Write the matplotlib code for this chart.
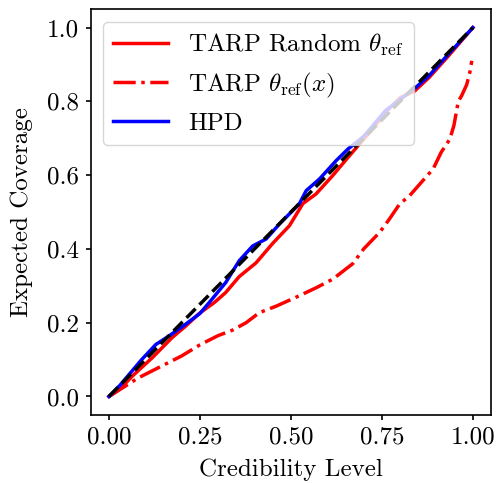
import matplotlib
matplotlib.use("Agg")
import matplotlib.pyplot as plt

plt.rcParams['font.family'] = 'serif'
plt.rcParams['font.serif'] = ['cmr10']
plt.rcParams['mathtext.fontset'] = 'cm'
plt.rcParams['axes.formatter.use_mathtext'] = True
plt.rcParams['axes.unicode_minus'] = False

# TARP with random reference points
tarp_x = [0.0, 0.03, 0.064, 0.119, 0.174, 0.21, 0.248, 0.29, 0.321, 0.358, 0.404, 0.45,
          0.496, 0.533, 0.569, 0.615, 0.65, 0.689, 0.72, 0.76, 0.80, 0.84, 0.88, 0.93, 1.0]
tarp_y = [0.0, 0.02, 0.055, 0.105, 0.16, 0.19, 0.225, 0.255, 0.282, 0.325, 0.362, 0.415,
          0.463, 0.523, 0.549, 0.599, 0.64, 0.685, 0.72, 0.77, 0.81, 0.828, 0.865, 0.92, 1.0]

# TARP with reference points theta_ref(x)
tarpx_x = [0.0, 0.04, 0.08, 0.12, 0.2, 0.25, 0.3, 0.34, 0.377, 0.413, 0.46, 0.523, 0.57,
           0.615, 0.67, 0.70, 0.744, 0.77, 0.799, 0.826, 0.858, 0.891, 0.913, 0.937,
           0.948, 0.96, 0.969, 0.983, 0.992, 0.997]
tarpx_y = [0.0, 0.025, 0.05, 0.07, 0.11, 0.14, 0.165, 0.18, 0.20, 0.227, 0.245, 0.273, 0.295,
           0.318, 0.36, 0.40, 0.445, 0.48, 0.522, 0.544, 0.58, 0.617, 0.662, 0.698,
           0.735, 0.80, 0.815, 0.845, 0.88, 0.91]

# HPD coverage
hpd_x = [0.0, 0.03, 0.06, 0.09, 0.129, 0.165, 0.211, 0.25, 0.275, 0.321, 0.358, 0.395, 0.432,
         0.468, 0.523, 0.542, 0.579, 0.624, 0.657, 0.70, 0.76, 0.82, 0.84, 0.88, 0.93, 1.0]
hpd_y = [0.0, 0.03, 0.065, 0.10, 0.141, 0.164, 0.196, 0.225, 0.254, 0.309, 0.368, 0.408, 0.427,
         0.467, 0.522, 0.558, 0.59, 0.639, 0.671, 0.705, 0.775, 0.82, 0.835, 0.87, 0.925, 1.0]

fig = plt.figure(figsize=(4.96, 4.83), dpi=100)
ax = fig.add_axes([0.183, 0.141, 0.807, 0.840])

ax.plot(tarp_x, tarp_y, color='red', lw=2.5, label=r'TARP Random $\theta_{\rm ref}$')
ax.plot(tarpx_x, tarpx_y, color='red', lw=2.5, ls='-.', label=r'TARP $\theta_{\rm ref}(x)$')
ax.plot(hpd_x, hpd_y, color='blue', lw=2.5, label='HPD')
ax.plot([0, 1], [0, 1], color='black', lw=2.5, ls='--')

ax.set_xticks([0.0, 0.25, 0.5, 0.75, 1.0])
ax.set_xticklabels(['0.00', '0.25', '0.50', '0.75', '1.00'])
ax.set_yticks([0.0, 0.2, 0.4, 0.6, 0.8, 1.0])
ax.set_yticklabels(['0.0', '0.2', '0.4', '0.6', '0.8', '1.0'])
ax.tick_params(labelsize=18, width=1.2, pad=5)
for s in ax.spines.values():
    s.set_linewidth(1.2)
ax.set_xlabel('Credibility Level', fontsize=18, labelpad=7)
ax.set_ylabel('Expected Coverage', fontsize=18, labelpad=10)
ax.legend(loc='upper left', fontsize=18, handlelength=2.2)

fig.savefig('out.png', dpi=100)
